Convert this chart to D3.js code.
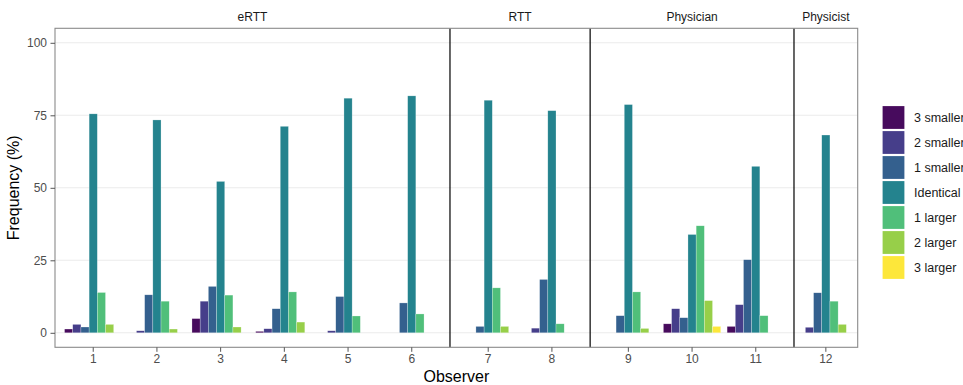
<!DOCTYPE html>
<html>
<head>
<meta charset="utf-8">
<script src="https://cdn.jsdelivr.net/npm/d3@7"></script>
<style>
  html, body { margin: 0; padding: 0; background: #fff; }
  svg { display: block; font-family: "Liberation Sans", Arial, sans-serif; }
</style>
</head>
<body>
<svg id="chart" width="963" height="385"></svg>
<script>
// Observer groups (facets) and their observers
const groupNames = ["eRTT", "RTT", "Physician", "Physicist"];
const groupObservers = [["1", "2", "3", "4", "5", "6"], ["7", "8"], ["9", "10", "11"], ["12"]];

// Difference categories (fill legend)
const categories = ["3 smaller", "2 smaller", "1 smaller", "Identical", "1 larger", "2 larger", "3 larger"];
const categoryColors = ["#470b5d", "#463e8a", "#34608e", "#24838e", "#50bf7a", "#97cf49", "#fde73a"];

// Frequency (%) per observer 1..12, one array per category
const smaller3 = [1.3, 0, 4.9, 0.5, 0, 0, 0, 0, 0, 3.1, 2.2, 0];
const smaller2 = [2.9, 0.7, 10.9, 1.4, 0.7, 0, 0, 1.6, 0, 8.3, 9.7, 1.9];
const smaller1 = [2.0, 13.1, 16.0, 8.3, 12.5, 10.3, 2.2, 18.4, 5.9, 5.2, 25.2, 13.8];
const identical = [75.5, 73.4, 52.2, 71.2, 80.9, 81.7, 80.2, 76.6, 78.7, 33.9, 57.4, 68.2];
const larger1 = [13.9, 10.9, 13.0, 14.1, 5.8, 6.5, 15.5, 3.1, 14.1, 36.9, 5.9, 10.9];
const larger2 = [2.9, 1.3, 2.0, 3.7, 0, 0, 2.2, 0, 1.5, 11.1, 0, 2.9];
const larger3 = [0, 0, 0, 0, 0, 0, 0, 0, 0, 2.2, 0, 0];

const yTicks = [0, 25, 50, 75, 100];

const seriesValues = [smaller3, smaller2, smaller1, identical, larger1, larger2, larger3];
const allObservers = groupObservers.flat();
const records = [];
allObservers.forEach((obs, i) => {
  categories.forEach((cat, j) => records.push({ observer: obs, category: cat, value: seriesValues[j][i] }));
});

const svg = d3.select("#chart");
const plotLeft = 55, plotRight = 857.7, plotTop = 28.3, plotBottom = 347.3;

const y = d3.scaleLinear().domain([-5, 105]).range([plotBottom, plotTop]);

// Panel layout: each panel's width in category steps (outer padding 0.1 step, none on the last one)
const outerPad = groupNames.map((g, i) => i === groupNames.length - 1 ? 0 : 0.1);
const panelUnits = groupObservers.map((obs, i) => obs.length + 2 * outerPad[i]);
const unit = d3.scaleLinear().domain([0, d3.sum(panelUnits)]).range([plotLeft, plotRight]);
const panelStarts = [0];
panelUnits.slice(0, -1).forEach(u => panelStarts.push(panelStarts[panelStarts.length - 1] + u));

const panels = groupNames.map((name, i) => {
  const x0 = unit(panelStarts[i]);
  const x1 = unit(panelStarts[i] + panelUnits[i]);
  const band = d3.scaleBand().domain(groupObservers[i]).range([x0, x1])
    .paddingInner(0).paddingOuter(outerPad[i]);
  return { name, x0, x1, band };
});
const xBand = obs => panels.find(p => p.band.domain().includes(obs)).band;
const step = panels[0].band.bandwidth();
const inner = d3.scaleBand().domain(categories).range([0.05 * step, 0.95 * step]).padding(0);
const color = d3.scaleOrdinal().domain(categories).range(categoryColors);

// Horizontal grid
svg.append("g").selectAll("line").data(yTicks).join("line")
  .attr("x1", plotLeft).attr("x2", plotRight)
  .attr("y1", d => y(d)).attr("y2", d => y(d))
  .attr("stroke", "#ebebeb").attr("stroke-width", 1.1);

// Bars
svg.append("g").selectAll("rect").data(records.filter(d => d.value > 0)).join("rect")
  .attr("x", d => xBand(d.observer)(d.observer) + inner(d.category))
  .attr("width", inner.bandwidth())
  .attr("y", d => y(d.value))
  .attr("height", d => y(0) - y(d.value))
  .attr("fill", d => color(d.category))
  .attr("stroke", "#ffffff").attr("stroke-opacity", 0.5).attr("stroke-width", 0.5);

// Panel separators
svg.append("g").selectAll("line").data(panels.slice(1)).join("line")
  .attr("x1", d => d.x0).attr("x2", d => d.x0)
  .attr("y1", plotTop).attr("y2", plotBottom)
  .attr("stroke", "#000").attr("stroke-width", 1.2);

// Panel border
svg.append("rect").attr("x", plotLeft).attr("y", plotTop)
  .attr("width", plotRight - plotLeft).attr("height", plotBottom - plotTop)
  .attr("fill", "none").attr("stroke", "#8a8a8a").attr("stroke-width", 1.1);

// Facet labels
svg.append("g").selectAll("text").data(panels).join("text")
  .attr("x", d => (d.x0 + d.x1) / 2).attr("y", 21)
  .attr("text-anchor", "middle").attr("font-size", 12).attr("fill", "#1a1a1a")
  .text(d => d.name);

// Y axis
const yAxis = svg.append("g").attr("transform", `translate(${plotLeft},0)`)
  .call(d3.axisLeft(y).tickValues(yTicks).tickSize(4.5).tickPadding(3.5));
yAxis.select(".domain").remove();
yAxis.selectAll(".tick line").attr("stroke", "#555");
yAxis.selectAll(".tick text").attr("fill", "#4d4d4d").attr("font-size", 12)
  .attr("font-family", "Liberation Sans, Arial, sans-serif");

// X axes, one per panel
panels.forEach(p => {
  const g = svg.append("g").attr("transform", `translate(0,${plotBottom})`)
    .call(d3.axisBottom(p.band).tickSize(4.5).tickPadding(3));
  g.select(".domain").remove();
  g.selectAll(".tick line").attr("stroke", "#555");
  g.selectAll(".tick text").attr("fill", "#4d4d4d").attr("font-size", 12)
    .attr("font-family", "Liberation Sans, Arial, sans-serif");
});

// Axis titles
svg.append("text").attr("x", (plotLeft + plotRight) / 2).attr("y", 382)
  .attr("text-anchor", "middle").attr("font-size", 16).attr("fill", "#000")
  .text("Observer");
svg.append("text").attr("transform", `translate(19,${(plotTop + plotBottom) / 2}) rotate(-90)`)
  .attr("text-anchor", "middle").attr("font-size", 16).attr("fill", "#000")
  .text("Frequency (%)");

// Legend
const legend = svg.append("g").attr("transform", "translate(882,105.5)");
const items = legend.selectAll("g").data(categories).join("g")
  .attr("transform", (d, i) => `translate(0,${i * 25})`);
items.append("rect").attr("width", 23).attr("height", 24)
  .attr("fill", d => color(d)).attr("stroke", "#fff").attr("stroke-width", 1.2);
items.append("text").attr("x", 32).attr("y", 12).attr("dy", "0.35em")
  .attr("font-size", 12.5).attr("fill", "#1a1a1a").text(d => d);
</script>
</body>
</html>
